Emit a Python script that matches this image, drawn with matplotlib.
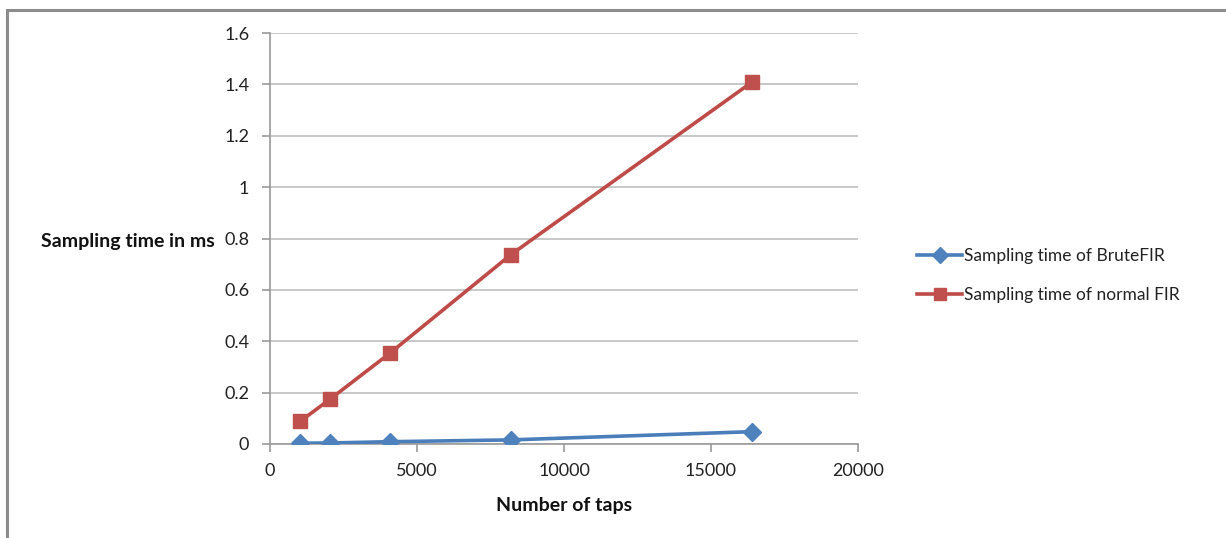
import matplotlib
matplotlib.use("Agg")
import matplotlib.pyplot as plt
from matplotlib.patches import Rectangle
from matplotlib.lines import Line2D

plt.rcParams['font.family'] = ['Lato', 'DejaVu Sans']

taps = [1024, 2048, 4096, 8192, 16384]
brutefir_ms = [0.003, 0.004, 0.009, 0.016, 0.048]
normal_fir_ms = [0.088, 0.175, 0.355, 0.737, 1.408]
series_names = ["Sampling time of BruteFIR", "Sampling time of normal FIR"]
x_ticks = [0, 5000, 10000, 15000, 20000]
y_ticks = [0, 0.2, 0.4, 0.6, 0.8, 1, 1.2, 1.4, 1.6]
y_tick_labels = ["0", "0.2", "0.4", "0.6", "0.8", "1", "1.2", "1.4", "1.6"]

W, H = 1226, 538
fig = plt.figure(figsize=(W / 100, H / 100), dpi=100)

# outer chart frame
fig.patches.append(Rectangle((7 / W, -0.1), 1.2, (H - 10) / H + 0.1,
                             transform=fig.transFigure, fill=False,
                             edgecolor="#8c8c8c", linewidth=2.2))

ax = fig.add_axes([270 / W, (H - 444) / H, (858 - 270) / W, (444 - 33) / H])

blue_line, blue_mark = "#4A7EBB", "#4F81BD"
red_line, red_mark = "#BE4B48", "#C0504D"

ax.plot(taps, brutefir_ms, color=blue_line, linewidth=2.6, marker="D",
        markersize=9, markerfacecolor=blue_mark, markeredgecolor=blue_mark,
        zorder=3)
ax.plot(taps, normal_fir_ms, color=red_line, linewidth=2.6, marker="s",
        markersize=10.5, markerfacecolor=red_mark, markeredgecolor=red_mark,
        zorder=3)

ax.set_xlim(0, 20000)
ax.set_ylim(0, 1.6)
ax.set_xticks(x_ticks)
ax.set_xticklabels([str(v) for v in x_ticks])
ax.set_yticks(y_ticks)
ax.set_yticklabels(y_tick_labels)

ax.grid(axis="y", color="#bfbfbf", linewidth=1.2, zorder=0)
ax.set_axisbelow(True)
for side in ("top", "right"):
    ax.spines[side].set_visible(False)
for side in ("left", "bottom"):
    ax.spines[side].set_color("#9a9a9a")
    ax.spines[side].set_linewidth(1.2)

ax.tick_params(axis="both", direction="out", length=6, width=1.2,
               color="#9a9a9a", labelsize=13, labelcolor="#222222")
ax.tick_params(axis="y", pad=9)
ax.tick_params(axis="x", pad=8)

ax.set_xlabel("Number of taps", fontsize=14, fontweight="bold",
              color="#111111", labelpad=13)
fig.text(215 / W, 1 - 241 / H, "Sampling time in ms", fontsize=14,
         fontweight="bold", color="#111111", ha="right", va="center")

handles = [
    Line2D([], [], color=blue_line, linewidth=2.6, marker="D", markersize=8,
           markerfacecolor=blue_mark, markeredgecolor=blue_mark),
    Line2D([], [], color=red_line, linewidth=2.6, marker="s", markersize=9,
           markerfacecolor=red_mark, markeredgecolor=red_mark),
]
fig.legend(handles, series_names, loc="upper left",
           bbox_to_anchor=(917 / W, 1 - 248 / H), frameon=False,
           fontsize=12.5, handlelength=2.6, handletextpad=0.1,
           labelspacing=1.35, borderaxespad=0, borderpad=0,
           labelcolor="#222222")

fig.savefig("out.png", dpi=100)
